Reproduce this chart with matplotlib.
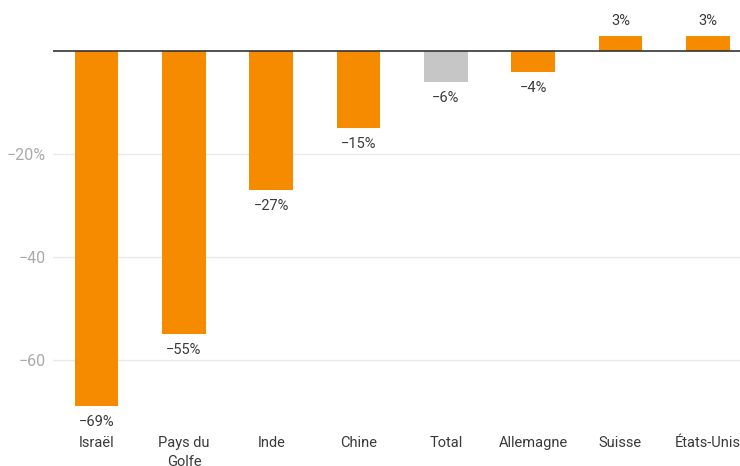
import matplotlib.pyplot as plt

plt.rcParams['font.family'] = ['Roboto', 'DejaVu Sans']

categories = ["Israël", "Pays du\nGolfe", "Inde", "Chine", "Total", "Allemagne", "Suisse", "États-Unis"]
values = [-69, -55, -27, -15, -6, -4, 3, 3]
labels = ["−69%", "−55%", "−27%", "−15%", "−6%", "−4%", "3%", "3%"]
yticks = [-20, -40, -60]
ytick_labels = ["−20%", "−40", "−60"]

orange = "#f68b00"
grey = "#c6c6c6"
colors = [grey if c == "Total" else orange for c in categories]

fig = plt.figure(figsize=(7.4, 4.66), dpi=100)
ax = fig.add_axes([53 / 740, 38 / 466, 1 - 53 / 740, 428 / 466])

x = range(len(categories))
ax.bar(x, values, width=0.5, color=colors, zorder=3)

# value labels under negative bars, above positive ones
for xi, v, lab in zip(x, values, labels):
    dy = -16 if v < 0 else 15
    ax.annotate(lab, (xi, v), xytext=(0, dy), textcoords="offset pixels",
                ha="center", va="center", fontsize=10.5, color="#3a3a3a")

ax.axhline(0, color="#333333", linewidth=1.2, zorder=4)
for t in yticks:
    ax.axhline(t, color="#e8e8e8", linewidth=1, zorder=1)

ax.set_xlim(-0.5, 7.37)
ax.set_ylim(-73.2, 9.9)
ax.set_yticks(yticks)
ax.set_yticklabels(ytick_labels, color="#aaaaaa", fontsize=11.5)
ax.set_xticks(list(x))
ax.set_xticklabels(categories, color="#3a3a3a", fontsize=10.5, linespacing=1.4, va="top")
ax.tick_params(axis="both", length=0)
ax.tick_params(axis="y", pad=5)
ax.tick_params(axis="x", pad=6)
for s in ax.spines.values():
    s.set_visible(False)

fig.savefig("out.png", dpi=100)
